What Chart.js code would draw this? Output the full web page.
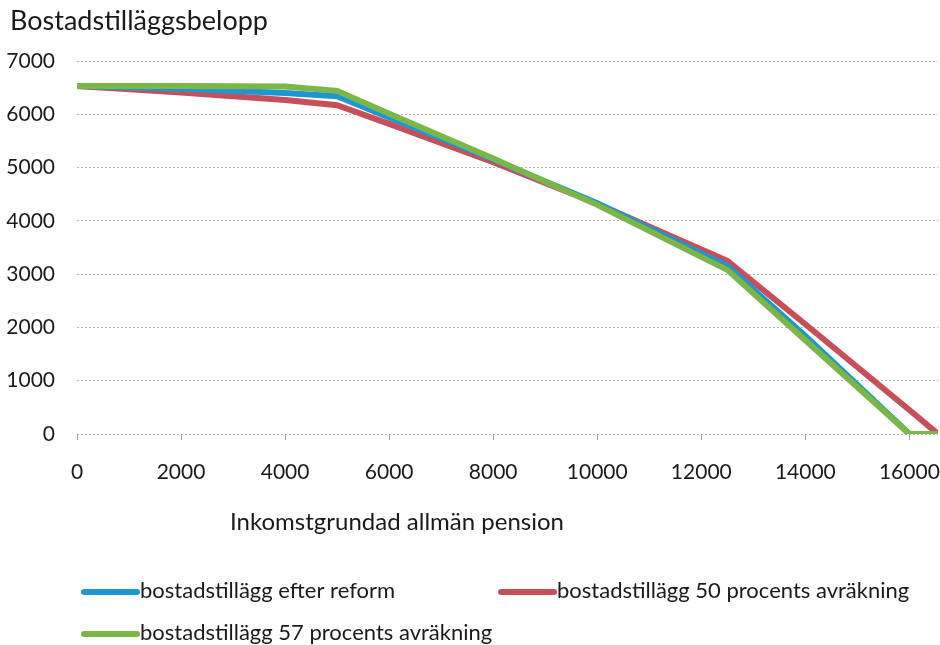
<!DOCTYPE html>
<html>
<head>
<meta charset="utf-8">
<script src="https://cdn.jsdelivr.net/npm/chart.js@4.4.1/dist/chart.umd.min.js"></script>
<style>
  html, body { margin: 0; padding: 0; background: #fff; }
  #wrap { width: 940px; height: 645px; position: relative; }
</style>
</head>
<body>
<div id="wrap"><canvas id="bostadChart"></canvas></div>
<script>
// inkomstgrundad allmän pension (kr/mån) - gemensamma x-värden
const incomeSteps = [0, 2000, 4000, 5000, 6000, 8000, 10000, 12500, 14000, 16000, 16550];

// bostadstillägg per serie
const efterReform = [6530, 6480, 6400, 6340, 5940, 5150, 4330, 3150, 1840, 0, 0];
const avrakning50 = [6530, 6410, 6270, 6170, 5820, 5100, 4320, 3250, 2060, 450, 0];
const avrakning57 = [6530, 6530, 6520, 6440, 6010, 5170, 4300, 3080, 1760, 0, 0];

const xTickLabels = [0, 2000, 4000, 6000, 8000, 10000, 12000, 14000, 16000];
const yTickLabels = [0, 1000, 2000, 3000, 4000, 5000, 6000, 7000];

const seriesNames = [
  "bostadstillägg efter reform",
  "bostadstillägg 50 procents avräkning",
  "bostadstillägg 57 procents avräkning",
];

const FONT = "Lato, 'Open Sans', sans-serif";
const COLORS = ["#1f96d4", "#c6505a", "#7ab648"];

const toPoints = (vals) => incomeSteps.map((x, i) => ({ x: x, y: vals[i] }));

// titlar och legend ritas direkt på canvasen
const textPlugin = {
  id: "textPlugin",
  afterDraw: (chart) => {
    const { ctx } = chart;
    ctx.save();
    ctx.fillStyle = "#1a1a1a";
    ctx.textBaseline = "middle";

    // diagramtitel
    ctx.font = "27px " + FONT;
    ctx.textAlign = "left";
    ctx.fillText("Bostadstilläggsbelopp", 10, 21);

    // x-axelns titel
    ctx.font = "24px " + FONT;
    ctx.textAlign = "center";
    ctx.fillText("Inkomstgrundad allmän pension", 397, 522);

    // legend
    const items = [
      { x: 81, y: 591 },
      { x: 498, y: 591 },
      { x: 81, y: 633 },
    ];
    ctx.font = "22px " + FONT;
    ctx.textAlign = "left";
    items.forEach((it, i) => {
      ctx.beginPath();
      ctx.lineWidth = 6;
      ctx.lineCap = "round";
      ctx.strokeStyle = COLORS[i];
      ctx.moveTo(it.x + 3, it.y + 1);
      ctx.lineTo(it.x + 56, it.y + 1);
      ctx.stroke();
      ctx.fillText(seriesNames[i], it.x + 59, it.y);
    });
    ctx.restore();
  },
};

const ctx = document.getElementById("bostadChart").getContext("2d");

new Chart(ctx, {
  type: "line",
  data: {
    datasets: [
      {
        label: seriesNames[0],
        data: toPoints(efterReform),
        borderColor: COLORS[0],
        borderWidth: 6,
        order: 2,
      },
      {
        label: seriesNames[1],
        data: toPoints(avrakning50),
        borderColor: COLORS[1],
        borderWidth: 6,
        order: 3,
      },
      {
        label: seriesNames[2],
        data: toPoints(avrakning57),
        borderColor: COLORS[2],
        borderWidth: 6,
        order: 1,
      },
    ],
  },
  plugins: [textPlugin],
  options: {
    responsive: true,
    maintainAspectRatio: false,
    animation: false,
    events: [],
    elements: {
      point: { radius: 0 },
      line: { tension: 0, borderJoinStyle: "miter", fill: false },
    },
    layout: { padding: { top: 61, right: 2, left: 0, bottom: 0 } },
    plugins: {
      legend: { display: false },
      tooltip: { enabled: false },
      title: { display: false },
    },
    scales: {
      x: {
        type: "linear",
        min: 0,
        max: 16550,
        afterFit: (scale) => {
          scale.height = 211;
          scale.paddingLeft = 0;
          scale.paddingRight = 0;
        },
        afterBuildTicks: (scale) => {
          scale.ticks = xTickLabels.map((v) => ({ value: v }));
        },
        border: { display: false },
        grid: {
          drawOnChartArea: false,
          drawTicks: true,
          tickLength: 6,
          color: "#a0a0a0",
          lineWidth: 1,
        },
        ticks: {
          padding: 20,
          color: "#1a1a1a",
          font: { family: FONT, size: 21 },
          maxRotation: 0,
          autoSkip: false,
          callback: (v) => String(v),
        },
      },
      y: {
        min: 0,
        max: 7000,
        afterFit: (scale) => {
          scale.width = 77;
          scale.paddingTop = 0;
          scale.paddingBottom = 0;
        },
        afterBuildTicks: (scale) => {
          scale.ticks = yTickLabels.map((v) => ({ value: v }));
        },
        border: { display: false, dash: [2, 2] },
        grid: {
          drawTicks: false,
          color: "#b4b4b4",
          lineWidth: 1,
        },
        ticks: {
          padding: 22,
          color: "#1a1a1a",
          font: { family: FONT, size: 21 },
          callback: (v) => String(v),
        },
      },
    },
  },
});
</script>
</body>
</html>
